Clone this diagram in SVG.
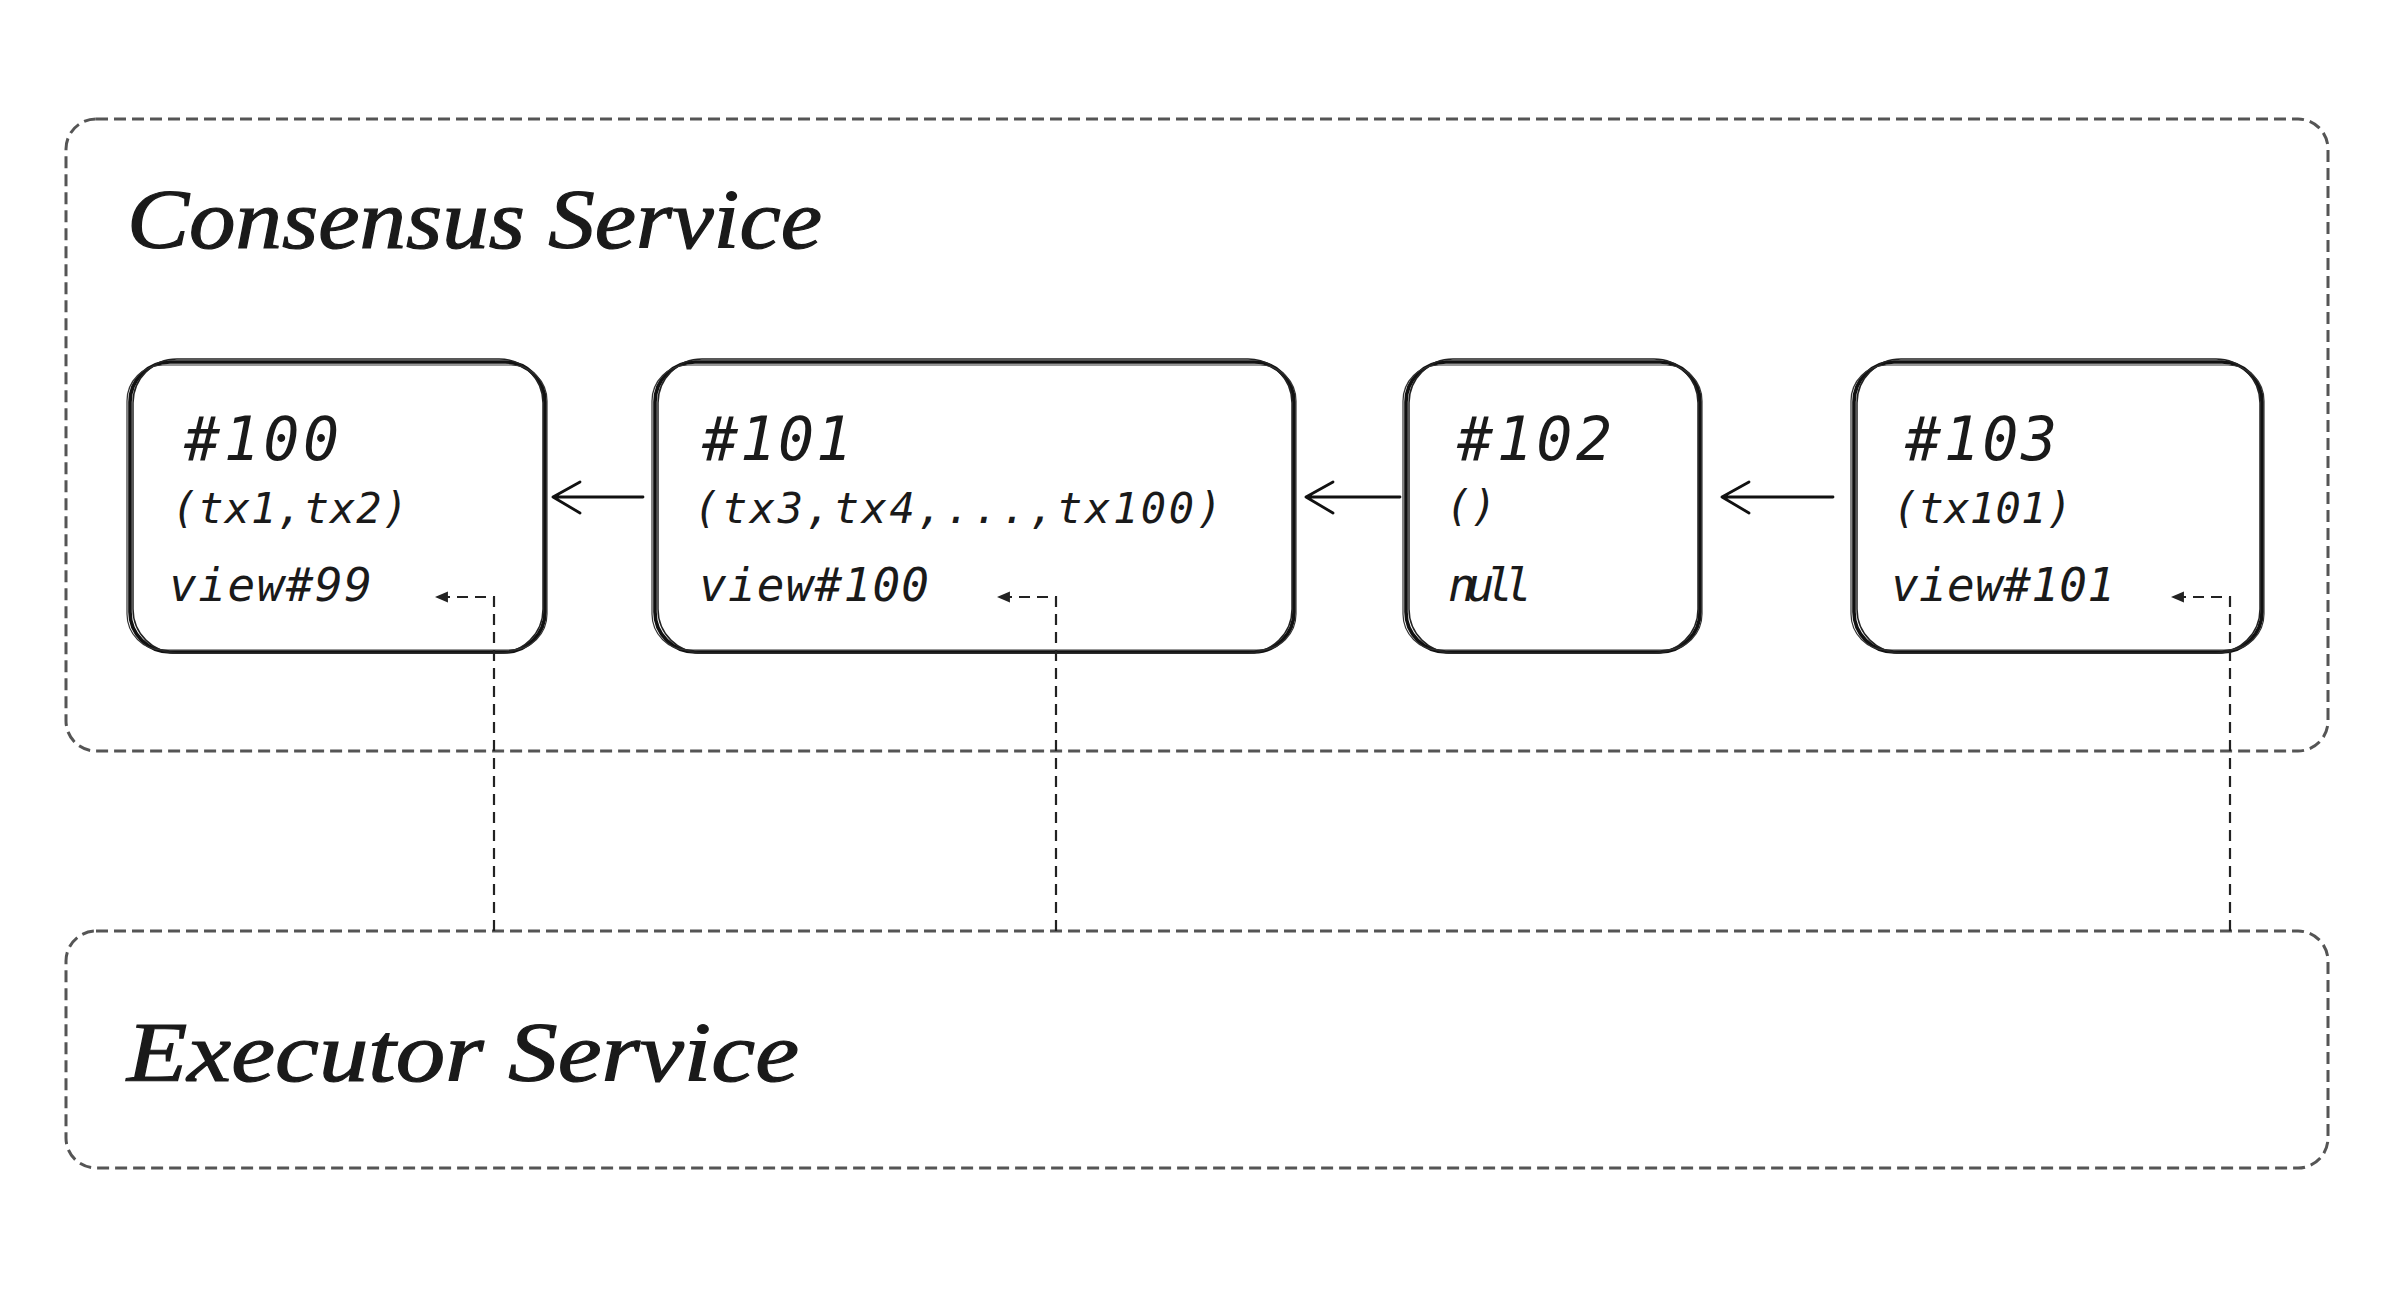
<svg xmlns="http://www.w3.org/2000/svg" width="2400" height="1300" viewBox="0 0 2400 1300">
<defs>
<style>
.bg{fill:#ffffff}
.container{fill:none;stroke:#555;stroke-width:3;stroke-dasharray:12 6}
.title{font-family:"Liberation Serif","DejaVu Serif",serif;font-style:italic;font-size:84px;fill:#1a1a1a;stroke:#1a1a1a;stroke-width:1.2}
.hdr{font-family:"DejaVu Sans Mono","Liberation Mono",monospace;font-style:oblique;font-size:60px;fill:#1a1a1a}
.txs{font-family:"DejaVu Sans Mono","Liberation Mono",monospace;font-style:oblique;font-size:42px;fill:#1a1a1a}
.view{font-family:"DejaVu Sans Mono","Liberation Mono",monospace;font-style:oblique;font-size:46px;fill:#1a1a1a}
.sk1{fill:#fff;stroke:#111;stroke-width:3.6}
.sk2{fill:none;stroke:#222;stroke-width:1.5}
.sk3{fill:none;stroke:#333;stroke-width:1.2}
.arrow{fill:none;stroke:#111;stroke-width:2.8;stroke-linecap:round;stroke-linejoin:round}
.dash{fill:none;stroke:#222;stroke-width:2.2;stroke-dasharray:11 7}
</style>
<marker id="tri" viewBox="0 0 12 12" refX="11" refY="6" markerWidth="13" markerHeight="13" markerUnits="userSpaceOnUse" orient="auto">
<path d="M0,1 L12,6 L0,11 Z" fill="#222"/>
</marker>
</defs>
<rect class="bg" x="0" y="0" width="2400" height="1300"/>

<g id="consensus-service">
<rect class="container" x="66" y="119" width="2262" height="632" rx="30"/>
<text class="title" x="127" y="248" textLength="695" lengthAdjust="spacingAndGlyphs">Consensus Service</text>
</g>

<g id="executor-service">
<rect class="container" x="66" y="931" width="2262" height="237" rx="30"/>
<text class="title" x="127" y="1081" textLength="672" lengthAdjust="spacingAndGlyphs">Executor Service</text>
</g>

<g id="block-100">
<rect class="sk1" x="130" y="362" width="415" height="290" rx="40"/>
<rect class="sk2" x="133" y="359" width="410" height="294" rx="44"/>
<rect class="sk3" x="127" y="365" width="420" height="285" rx="36"/>
<text class="hdr" x="184" y="460" textLength="155">#100</text>
<text class="txs" x="172" y="523" textLength="236">(tx1,tx2)</text>
<text class="view" x="169" y="601" textLength="203">view#99</text>
</g>

<g id="block-101">
<rect class="sk1" x="655" y="362" width="639" height="290" rx="40"/>
<rect class="sk2" x="658" y="359" width="634" height="294" rx="44"/>
<rect class="sk3" x="652" y="365" width="644" height="285" rx="36"/>
<text class="hdr" x="702" y="460" textLength="150">#101</text>
<text class="txs" x="694" y="523" textLength="528">(tx3,tx4,...,tx100)</text>
<text class="view" x="699" y="601" textLength="230">view#100</text>
</g>

<g id="block-102">
<rect class="sk1" x="1406" y="362" width="294" height="290" rx="40"/>
<rect class="sk2" x="1409" y="359" width="289" height="294" rx="44"/>
<rect class="sk3" x="1403" y="365" width="299" height="285" rx="36"/>
<text class="hdr" x="1457" y="460" textLength="155">#102</text>
<text class="txs" x="1446" y="521">()</text>
<text class="view" x="1448" y="601" textLength="84">null</text>
</g>

<g id="block-103">
<rect class="sk1" x="1854" y="362" width="408" height="290" rx="40"/>
<rect class="sk2" x="1857" y="359" width="403" height="294" rx="44"/>
<rect class="sk3" x="1851" y="365" width="413" height="285" rx="36"/>
<text class="hdr" x="1905" y="460" textLength="152">#103</text>
<text class="txs" x="1893" y="523" textLength="179">(tx101)</text>
<text class="view" x="1891" y="601" textLength="224">view#101</text>
</g>

<g id="connectors">
<path class="arrow" d="M643,497 L553,497 M580,482 L553,497 L580,513"/>
<path class="arrow" d="M1400,497 L1306,497 M1333,482 L1306,497 L1333,513"/>
<path class="arrow" d="M1833,497 L1722,497 M1749,482 L1722,497 L1749,513"/>
<path class="dash" d="M494,931 L494,597 L436,597" marker-end="url(#tri)"/>
<path class="dash" d="M1056,931 L1056,597 L998,597" marker-end="url(#tri)"/>
<path class="dash" d="M2230,931 L2230,597 L2172,597" marker-end="url(#tri)"/>
</g>
</svg>
